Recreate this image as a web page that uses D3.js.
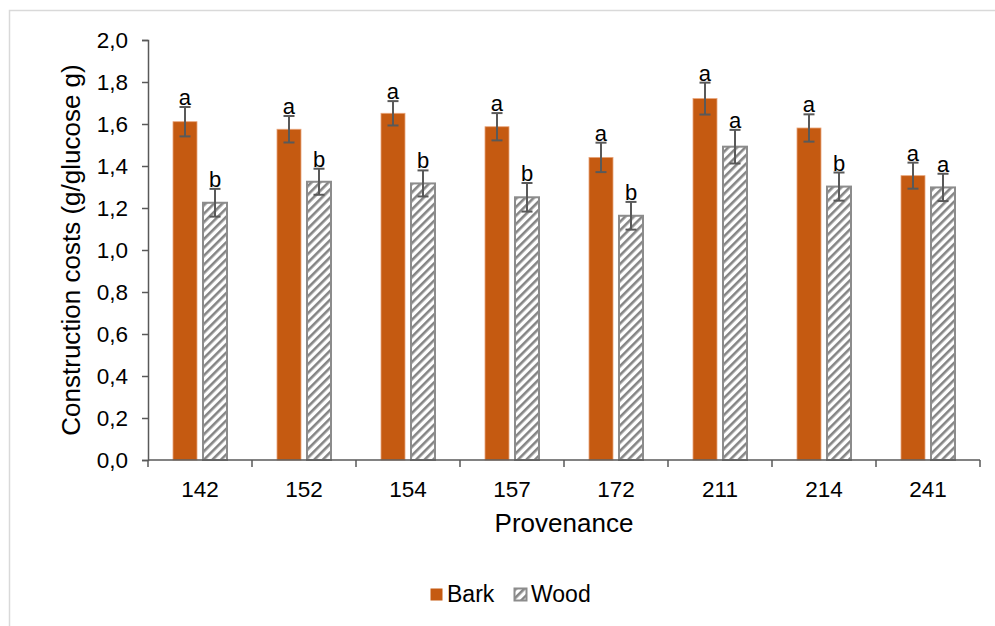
<!DOCTYPE html>
<html>
<head>
<meta charset="utf-8">
<script src="https://cdn.jsdelivr.net/npm/d3@7"></script>
<style>
  html, body { margin: 0; padding: 0; background: #fff; }
  svg { display: block; font-family: "Liberation Sans", Arial, sans-serif; }
</style>
</head>
<body>
<svg id="chart" width="995" height="626"></svg>
<script>
// Construction costs of bark and wood per provenance (mean ± error, letters = significance groups)
const provenances = ["142", "152", "154", "157", "172", "211", "214", "241"];
const seriesNames = ["Bark", "Wood"];
const barkValues = [1.611, 1.575, 1.651, 1.587, 1.441, 1.721, 1.581, 1.354];
const barkErrors = [0.070, 0.063, 0.058, 0.065, 0.070, 0.076, 0.065, 0.062];
const barkLetters = ["a", "a", "a", "a", "a", "a", "a", "a"];
const woodValues = [1.225, 1.325, 1.317, 1.251, 1.163, 1.492, 1.302, 1.298];
const woodErrors = [0.066, 0.062, 0.062, 0.068, 0.066, 0.080, 0.067, 0.065];
const woodLetters = ["b", "b", "b", "b", "b", "a", "b", "a"];
const yTicks = [0, 0.2, 0.4, 0.6, 0.8, 1.0, 1.2, 1.4, 1.6, 1.8, 2.0];

const svg = d3.select("#chart");
const plot = { left: 148, right: 980, top: 40, bottom: 460 };
const barkColor = "#c55a11";
const axisColor = "#595959";

// outer chart border
svg.append("rect")
  .attr("x", 9.5).attr("y", 10.5)
  .attr("width", 1000).attr("height", 700)
  .attr("fill", "none").attr("stroke", "#d9d9d9").attr("stroke-width", 1.5);

// diagonal hatch used for the wood bars
const defs = svg.append("defs");
const pat = defs.append("pattern")
  .attr("id", "hatch").attr("patternUnits", "userSpaceOnUse")
  .attr("width", 6).attr("height", 6)
  .attr("patternTransform", "rotate(45)");
pat.append("rect").attr("width", 6).attr("height", 6).attr("fill", "#ffffff");
pat.append("rect").attr("x", 0).attr("y", 0).attr("width", 2.6).attr("height", 6).attr("fill", "#858585");

const x = d3.scaleBand().domain(provenances).range([plot.left, plot.right]).padding(0);
const xInner = d3.scaleBand().domain(seriesNames).range([0, x.bandwidth()])
  .paddingInner(0.2).paddingOuter(0.833);
const y = d3.scaleLinear().domain([0, 2]).range([plot.bottom, plot.top]);

const rows = provenances.map((p, i) => [
  { prov: p, series: "Bark", value: barkValues[i], err: barkErrors[i], letter: barkLetters[i] },
  { prov: p, series: "Wood", value: woodValues[i], err: woodErrors[i], letter: woodLetters[i] }
]).flat();

// bars
svg.append("g").selectAll("rect")
  .data(rows).join("rect")
  .attr("x", d => x(d.prov) + xInner(d.series))
  .attr("y", d => y(d.value))
  .attr("width", xInner.bandwidth())
  .attr("height", d => y(0) - y(d.value))
  .attr("fill", d => d.series === "Bark" ? barkColor : "url(#hatch)")
  .attr("stroke", d => d.series === "Bark" ? "#e9a57a" : "#8c8c8c")
  .attr("stroke-width", d => d.series === "Bark" ? 0.8 : 2);

// error bars
const eb = svg.append("g").attr("stroke", axisColor).attr("stroke-width", 2);
const cx = d => x(d.prov) + xInner(d.series) + xInner.bandwidth() / 2;
eb.selectAll("line.v").data(rows).join("line").attr("class", "v")
  .attr("x1", cx).attr("x2", cx)
  .attr("y1", d => y(d.value + d.err)).attr("y2", d => y(d.value - d.err));
eb.selectAll("line.t").data(rows).join("line").attr("class", "t")
  .attr("x1", d => cx(d) - 5.5).attr("x2", d => cx(d) + 5.5)
  .attr("y1", d => y(d.value + d.err)).attr("y2", d => y(d.value + d.err));
eb.selectAll("line.b").data(rows).join("line").attr("class", "b")
  .attr("x1", d => cx(d) - 5.5).attr("x2", d => cx(d) + 5.5)
  .attr("y1", d => y(d.value - d.err)).attr("y2", d => y(d.value - d.err));

// significance letters
svg.append("g").selectAll("text")
  .data(rows).join("text")
  .attr("x", cx)
  .attr("y", d => y(d.value + d.err) - 2)
  .attr("text-anchor", "middle")
  .attr("font-size", 22)
  .attr("fill", "#000")
  .text(d => d.letter);

// y axis
const yAxis = d3.axisLeft(y).tickValues(yTicks).tickSize(6).tickPadding(14)
  .tickFormat(d => d3.format(".1f")(d).replace(".", ","));
const gy = svg.append("g").attr("transform", `translate(${plot.left},0)`).call(yAxis);
gy.select(".domain").attr("stroke", axisColor).attr("stroke-width", 1.5);
gy.selectAll(".tick line").attr("stroke", axisColor).attr("stroke-width", 1.5);
gy.selectAll(".tick text").attr("font-size", 22.5).attr("fill", "#000")
  .attr("font-family", "Liberation Sans, Arial, sans-serif");

// x axis with ticks at group boundaries
const gx = svg.append("g").attr("transform", `translate(0,${plot.bottom})`);
gx.append("line").attr("x1", plot.left).attr("x2", plot.right)
  .attr("stroke", axisColor).attr("stroke-width", 1.5);
const bounds = provenances.map(p => x(p)).concat([x(provenances[provenances.length - 1]) + x.bandwidth()]);
gx.selectAll("line.tk").data(bounds).join("line").attr("class", "tk")
  .attr("x1", d => d).attr("x2", d => d).attr("y1", 0).attr("y2", 7)
  .attr("stroke", axisColor).attr("stroke-width", 1.5);
gx.selectAll("text").data(provenances).join("text")
  .attr("x", d => x(d) + x.bandwidth() / 2)
  .attr("y", 37)
  .attr("text-anchor", "middle")
  .attr("font-size", 22.5)
  .attr("fill", "#000")
  .text(d => d);

// axis titles
svg.append("text")
  .attr("x", (plot.left + plot.right) / 2).attr("y", 532)
  .attr("text-anchor", "middle").attr("font-size", 26).attr("fill", "#000")
  .text("Provenance");
svg.append("text")
  .attr("transform", `translate(80,${(plot.top + plot.bottom) / 2}) rotate(-90)`)
  .attr("text-anchor", "middle").attr("font-size", 26).attr("fill", "#000")
  .text("Construction costs (g/glucose g)");

// legend
const legend = svg.append("g").attr("transform", "translate(430,588)");
const legendItems = [
  { name: "Bark", dx: 0, fill: barkColor, stroke: "none" },
  { name: "Wood", dx: 84, fill: "url(#hatch)", stroke: "#8c8c8c" }
];
legendItems.forEach(it => {
  legend.append("rect").attr("x", it.dx + 0.5).attr("y", 0.5).attr("width", 12).attr("height", 12)
    .attr("fill", it.fill).attr("stroke", it.stroke).attr("stroke-width", it.stroke === "none" ? 0 : 2);
  legend.append("text").attr("x", it.dx + 17).attr("y", 14)
    .attr("font-size", 23).attr("fill", "#000").text(it.name);
});
</script>
</body>
</html>
